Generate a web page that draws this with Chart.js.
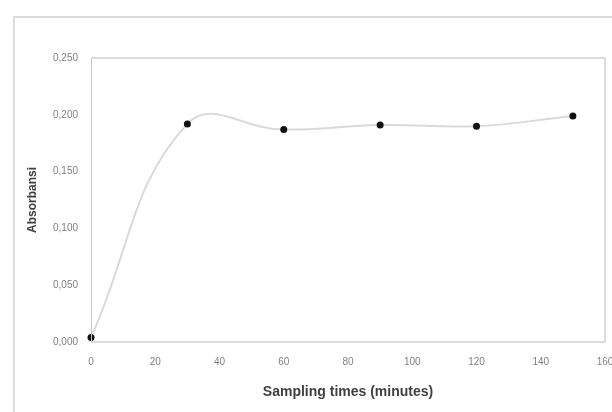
<!DOCTYPE html>
<html>
<head>
<meta charset="utf-8">
<script src="https://cdn.jsdelivr.net/npm/chart.js@4.4.1/dist/chart.umd.min.js"></script>
<style>
  html, body { margin: 0; padding: 0; background: #fff; }
  #wrap { position: relative; width: 612px; height: 412px; overflow: hidden; }
  #frame { position: absolute; left: 13px; top: 16px; width: 700px; height: 500px; border: 2px solid #dcdcdc; }
  canvas { position: absolute; left: 0; top: 0; }
</style>
</head>
<body>
<div id="wrap">
  <div id="frame"></div>
  <canvas id="chart" width="612" height="412"></canvas>
</div>
<script>
const times = [0, 30, 60, 90, 120, 150];
const absorbansi = [0.004, 0.192, 0.187, 0.191, 0.190, 0.199];
const xTicks = [0, 20, 40, 60, 80, 100, 120, 140, 160];
const yTicks = [0, 0.05, 0.1, 0.15, 0.2, 0.25];

// plot area frame like the Excel one
const plotBorder = {
  id: "plotBorder",
  afterDraw(chart) {
    const { ctx, chartArea } = chart;
    ctx.save();
    ctx.strokeStyle = "#dcdcdc";
    ctx.lineWidth = 2;
    ctx.beginPath();
    ctx.moveTo(chartArea.left, chartArea.top);
    ctx.lineTo(chartArea.right, chartArea.top);
    ctx.lineTo(chartArea.right, chartArea.bottom);
    ctx.lineTo(chartArea.left, chartArea.bottom);
    ctx.stroke();
    ctx.strokeStyle = "#c8c8c8";
    ctx.lineWidth = 1;
    ctx.beginPath();
    ctx.moveTo(chartArea.left + 0.5, chartArea.top);
    ctx.lineTo(chartArea.left + 0.5, chartArea.bottom);
    ctx.stroke();
    ctx.restore();
  },
};

new Chart(document.getElementById("chart").getContext("2d"), {
  type: "line",
  data: {
    datasets: [
      {
        data: times.map((t, i) => ({ x: t, y: absorbansi[i] })),
        borderColor: "#d9d9d9",
        borderWidth: 2,
        tension: 0.42,
        pointRadius: 3.5,
        pointBackgroundColor: "#111",
        pointBorderColor: "#111",
        pointBorderWidth: 0,
        clip: false,
      },
    ],
  },
  plugins: [plotBorder],
  options: {
    responsive: false,
    animation: false,
    layout: { padding: { left: 0, top: 58, right: 7, bottom: 0 } },
    plugins: { legend: { display: false }, tooltip: { enabled: false } },
    scales: {
      x: {
        type: "linear",
        min: 0,
        max: 160,
        afterBuildTicks: (s) => { s.ticks = xTicks.map((v) => ({ value: v })); },
        afterFit: (s) => { s.height = 70; s.paddingRight = 0; s.paddingLeft = 0; },
        grid: { display: false },
        border: { display: false },
        ticks: {
          padding: 6,
          maxRotation: 0,
          color: "#808080",
          font: { family: "Liberation Sans", size: 10 },
        },
        title: {
          display: true,
          text: "Sampling times (minutes)",
          color: "#404040",
          font: { family: "Liberation Sans", size: 14, weight: "bold" },
          padding: { top: 0, bottom: 11 },
        },
      },
      y: {
        min: 0,
        max: 0.25,
        afterBuildTicks: (s) => { s.ticks = yTicks.map((v) => ({ value: v })); },
        afterFit: (s) => { s.width = 91; },
        grid: { display: false },
        border: { display: false },
        ticks: {
          padding: 5,
          color: "#808080",
          font: { family: "Liberation Sans", size: 10 },
          callback: (v) => v.toFixed(3).replace(".", ","),
        },
        title: {
          display: true,
          text: "Absorbansi",
          color: "#404040",
          font: { family: "Liberation Sans", size: 12, weight: "bold" },
          padding: { top: 25, bottom: 0 },
        },
      },
    },
  },
});
</script>
</body>
</html>
